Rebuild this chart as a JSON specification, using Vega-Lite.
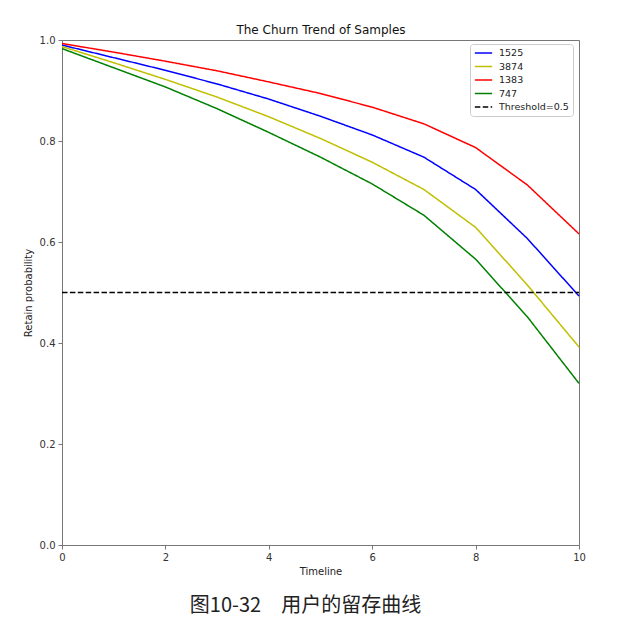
{
  "$schema": "https://vega.github.io/schema/vega-lite/v6.json",
  "autosize": {"type": "none"},
  "width": 517,
  "height": 505,
  "padding": {"left": 62, "top": 40, "right": 54, "bottom": 80},
  "background": "white",
  "title": {
    "text": "图10-32　用户的留存曲线",
    "orient": "bottom",
    "anchor": "middle",
    "dx": -15,
    "offset": 20,
    "font": "Noto Sans CJK SC",
    "fontSize": 20,
    "fontWeight": "normal",
    "color": "#222"
  },
  "config": {
    "view": {"stroke": "#777", "strokeWidth": 1},
    "font": "DejaVu Sans",
    "axis": {
      "grid": false,
      "domainColor": "#777",
      "tickColor": "#777",
      "tickSize": 4,
      "labelFontSize": 10,
      "labelColor": "#333",
      "labelFlush": false,
      "titleFontSize": 10,
      "titleFontWeight": "normal",
      "titleColor": "#222",
      "labelFont": "DejaVu Sans",
      "titleFont": "DejaVu Sans"
    },
    "legend": {
      "orient": "none",
      "legendX": 408,
      "legendY": 4,
      "fillColor": "white",
      "strokeColor": "#ccc",
      "cornerRadius": 3,
      "padding": 4,
      "labelFontSize": 9.5,
      "labelFont": "DejaVu Sans",
      "labelColor": "#222",
      "symbolType": "stroke",
      "symbolSize": 300,
      "symbolStrokeWidth": 1.5,
      "labelOffset": 6,
      "clipHeight": 10,
      "rowPadding": 3.5
    }
  },
  "data": {
    "values": [
      {"t": 0, "p": 0.990, "s": "1525"},
      {"t": 1, "p": 0.965, "s": "1525"},
      {"t": 2, "p": 0.940, "s": "1525"},
      {"t": 3, "p": 0.913, "s": "1525"},
      {"t": 4, "p": 0.883, "s": "1525"},
      {"t": 5, "p": 0.849, "s": "1525"},
      {"t": 6, "p": 0.812, "s": "1525"},
      {"t": 7, "p": 0.768, "s": "1525"},
      {"t": 8, "p": 0.704, "s": "1525"},
      {"t": 9, "p": 0.607, "s": "1525"},
      {"t": 10, "p": 0.493, "s": "1525"},
      {"t": 0, "p": 0.987, "s": "3874"},
      {"t": 1, "p": 0.955, "s": "3874"},
      {"t": 2, "p": 0.922, "s": "3874"},
      {"t": 3, "p": 0.887, "s": "3874"},
      {"t": 4, "p": 0.848, "s": "3874"},
      {"t": 5, "p": 0.805, "s": "3874"},
      {"t": 6, "p": 0.758, "s": "3874"},
      {"t": 7, "p": 0.704, "s": "3874"},
      {"t": 8, "p": 0.629, "s": "3874"},
      {"t": 9, "p": 0.515, "s": "3874"},
      {"t": 10, "p": 0.392, "s": "3874"},
      {"t": 0, "p": 0.993, "s": "1383"},
      {"t": 1, "p": 0.976, "s": "1383"},
      {"t": 2, "p": 0.958, "s": "1383"},
      {"t": 3, "p": 0.939, "s": "1383"},
      {"t": 4, "p": 0.917, "s": "1383"},
      {"t": 5, "p": 0.894, "s": "1383"},
      {"t": 6, "p": 0.867, "s": "1383"},
      {"t": 7, "p": 0.834, "s": "1383"},
      {"t": 8, "p": 0.787, "s": "1383"},
      {"t": 9, "p": 0.713, "s": "1383"},
      {"t": 10, "p": 0.616, "s": "1383"},
      {"t": 0, "p": 0.983, "s": "747"},
      {"t": 1, "p": 0.945, "s": "747"},
      {"t": 2, "p": 0.907, "s": "747"},
      {"t": 3, "p": 0.864, "s": "747"},
      {"t": 4, "p": 0.817, "s": "747"},
      {"t": 5, "p": 0.768, "s": "747"},
      {"t": 6, "p": 0.715, "s": "747"},
      {"t": 7, "p": 0.653, "s": "747"},
      {"t": 8, "p": 0.566, "s": "747"},
      {"t": 9, "p": 0.452, "s": "747"},
      {"t": 10, "p": 0.320, "s": "747"},
      {"t": 0, "p": 0.5, "s": "Threshold=0.5"},
      {"t": 10, "p": 0.5, "s": "Threshold=0.5"}
    ]
  },
  "resolve": {"axis": {"x": "independent"}},
  "layer": [
    {
      "mark": {"type": "line", "strokeWidth": 1.5},
      "encoding": {
        "x": {
          "field": "t",
          "type": "quantitative",
          "scale": {"domain": [0, 10], "nice": false},
          "axis": {"values": [0, 2, 4, 6, 8, 10], "title": "Timeline", "titlePadding": 4, "labelPadding": 3}
        },
        "y": {
          "field": "p",
          "type": "quantitative",
          "scale": {"domain": [0, 1], "nice": false},
          "axis": {"values": [0, 0.2, 0.4, 0.6, 0.8, 1.0], "format": ".1f", "title": "Retain probability", "titlePadding": 6, "labelPadding": 3}
        },
        "color": {
          "field": "s",
          "type": "nominal",
          "title": null,
          "scale": {
            "domain": ["1525", "3874", "1383", "747", "Threshold=0.5"],
            "range": ["#0000ff", "#bfbf00", "#ff0000", "#008000", "#000000"]
          }
        },
        "strokeDash": {
          "field": "s",
          "type": "nominal",
          "title": null,
          "scale": {
            "domain": ["1525", "3874", "1383", "747", "Threshold=0.5"],
            "range": [[1, 0], [1, 0], [1, 0], [1, 0], [5.5, 2.4]]
          }
        },
        "order": {"field": "t", "type": "quantitative"}
      }
    },
    {
      "mark": {"type": "point", "opacity": 0},
      "encoding": {
        "x": {
          "field": "t",
          "type": "quantitative",
          "axis": {"orient": "top", "labels": false, "ticks": false, "domain": false, "title": "The Churn Trend of Samples", "titleFontSize": 12, "titleColor": "#111", "titlePadding": 4}
        },
        "y": {"field": "p", "type": "quantitative"}
      }
    }
  ]
}
